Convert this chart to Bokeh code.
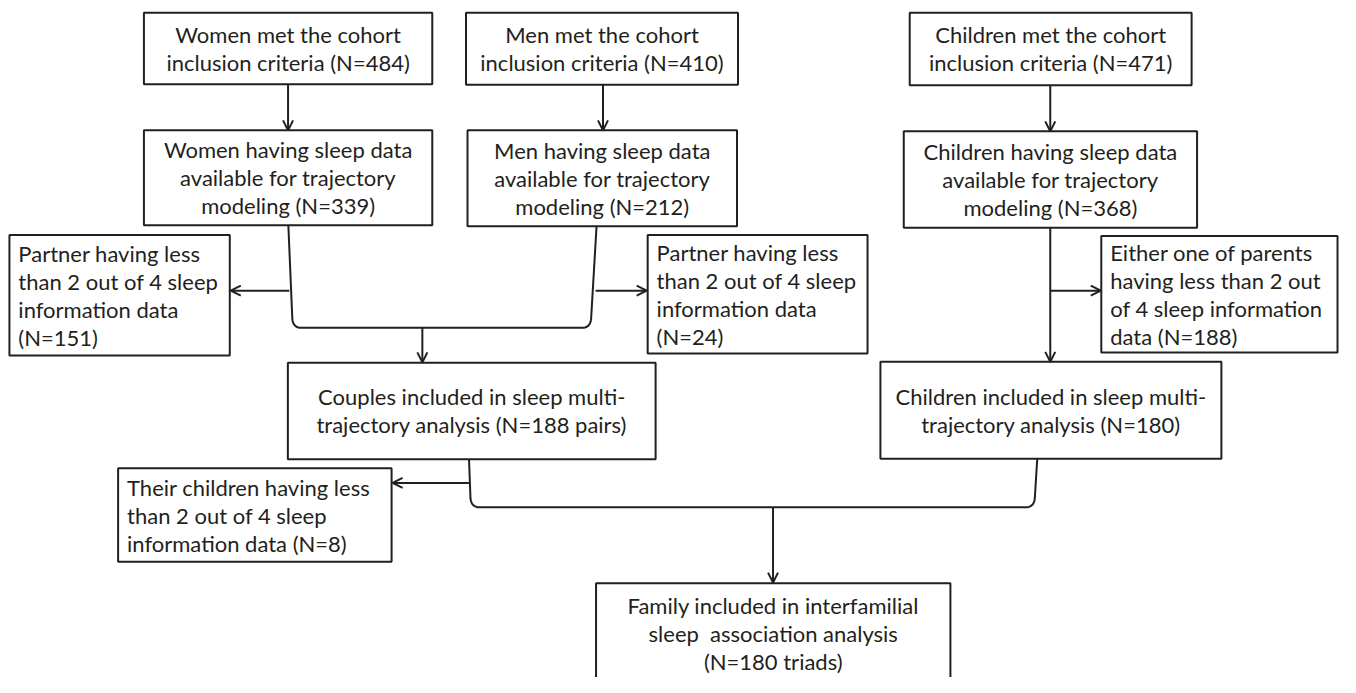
from bokeh.plotting import figure
from bokeh.models import Range1d, Arrow, OpenHead
from bokeh.core.properties import value
from bokeh.embed import file_html
from bokeh.resources import INLINE

# ---------------- content ----------------
women_met = ["Women met the cohort", "inclusion criteria (N=484)"]
men_met = ["Men met the cohort", "inclusion criteria (N=410)"]
child_met = ["Children met the cohort", "inclusion criteria (N=471)"]
women_sleep = ["Women having sleep data", "available for trajectory", "modeling (N=339)"]
men_sleep = ["Men having sleep data", "available for trajectory", "modeling (N=212)"]
child_sleep = ["Children having sleep data", "available for trajectory", "modeling (N=368)"]
partner_w = ["Partner having less", "than 2 out of 4 sleep", "information data", "(N=151)"]
partner_m = ["Partner having less", "than 2 out of 4 sleep", "information data", "(N=24)"]
parents_ex = ["Either one of parents", "having less than 2 out", "of 4 sleep information", "data (N=188)"]
couples = ["Couples included in sleep multi-", "trajectory analysis (N=188 pairs)"]
child_inc = ["Children included in sleep multi-", "trajectory analysis (N=180)"]
child_ex = ["Their children having less", "than 2 out of 4 sleep", "information data (N=8)"]
family = ["Family included in interfamilial", "sleep\u00a0 association analysis", "(N=180 triads)"]

# ---------------- layout (reference picture pixels) ----------------
boxes = [
    # lines, left, right, top, bottom, align
    (women_met, 144.5, 435, 12.5, 86, "center"),
    (men_met, 469, 743, 12.5, 86.5, "center"),
    (child_met, 916, 1200, 12.5, 87, "center"),
    (women_sleep, 144.5, 435, 133.5, 231, "center"),
    (men_sleep, 470.5, 742, 133.5, 232, "center"),
    (child_sleep, 910, 1205.5, 134.5, 233.5, "center"),
    (partner_w, 9, 231, 241, 365, "left"),
    (partner_m, 652, 873.5, 241, 363, "left"),
    (parents_ex, 1109, 1347, 242, 362, "left"),
    (couples, 289.5, 660, 372.5, 471.5, "center"),
    (child_inc, 886.5, 1230, 371.5, 471, "center"),
    (child_ex, 118.5, 394, 481, 577, "left"),
    (family, 600, 957, 599, 720, "center"),
]

INK = "#231f20"
FONT = "Lato"
FSIZE = "22px"
LEAD = 28.8

p = figure(width=1340, height=677, x_range=Range1d(0, 1350), y_range=Range1d(696, 0),
           output_backend="svg", toolbar_location=None, min_border=0)
p.axis.visible = False
p.grid.visible = False
p.outline_line_color = None
p.background_fill_color = "white"
p.border_fill_color = "white"

for lines, l, r, t, b, al in boxes:
    p.quad(left=[l], right=[r], top=[t], bottom=[b], fill_color="white",
           line_color=INK, line_width=2)
    n = len(lines)
    cy = (t + b) / 2 if b < 696 else t + 22.5 + (n - 1) / 2 * LEAD
    ys = [cy + (i - (n - 1) / 2) * LEAD for i in range(n)]
    if al == "center":
        xs = [(l + r) / 2] * n
    else:
        xs = [l + 9] * n
    p.text(x=xs, y=ys, text=lines, text_font=value(FONT), text_font_size=FSIZE,
           text_align=al, text_baseline="middle", text_color=INK)


def bez(p0, c, p1, n=10):
    pts = []
    for i in range(n + 1):
        s = i / n
        x = (1 - s) ** 2 * p0[0] + 2 * (1 - s) * s * c[0] + s ** 2 * p1[0]
        y = (1 - s) ** 2 * p0[1] + 2 * (1 - s) * s * c[1] + s ** 2 * p1[1]
        pts.append((x, y))
    return pts


def bracket(xl_top, xl_bot, xr_bot, xr_top, y_top_l, y_top_r, y_h, rad=9):
    pts = [(xl_top, y_top_l)]
    pts += bez((xl_bot, y_h - rad), (xl_bot + 1, y_h), (xl_bot + rad, y_h))
    pts += bez((xr_bot - rad, y_h), (xr_bot - 1, y_h), (xr_bot, y_h - rad))
    pts.append((xr_top, y_top_r))
    return [q[0] for q in pts], [q[1] for q in pts]


# parents bracket
bx, by = bracket(290, 294, 595, 600.5, 231, 232, 336.5)
p.line(bx, by, line_color=INK, line_width=2)
# couples + children bracket
bx, by = bracket(472, 473.5, 1042, 1044.5, 471.5, 471, 521)
p.line(bx, by, line_color=INK, line_width=2)

arrows = [
    (289.7, 86, 289.7, 133.5),
    (607, 86.5, 607, 133.5),
    (1057.6, 87, 1057.6, 134.5),
    (1057.6, 233.5, 1057.6, 371.5),
    (291, 298.3, 232, 298.3),
    (599.5, 298.3, 651, 298.3),
    (1057.6, 298.3, 1108.5, 298.3),
    (425, 336.5, 425, 372),
    (472.5, 496, 395, 496),
    (778.3, 521, 778.3, 598.5),
]
for x0, y0, x1, y1 in arrows:
    p.add_layout(Arrow(end=OpenHead(size=10, line_width=2, line_color=INK),
                       x_start=x0, y_start=y0, x_end=x1, y_end=y1,
                       line_color=INK, line_width=2))

open("out.html", "w").write(file_html(p, INLINE))
